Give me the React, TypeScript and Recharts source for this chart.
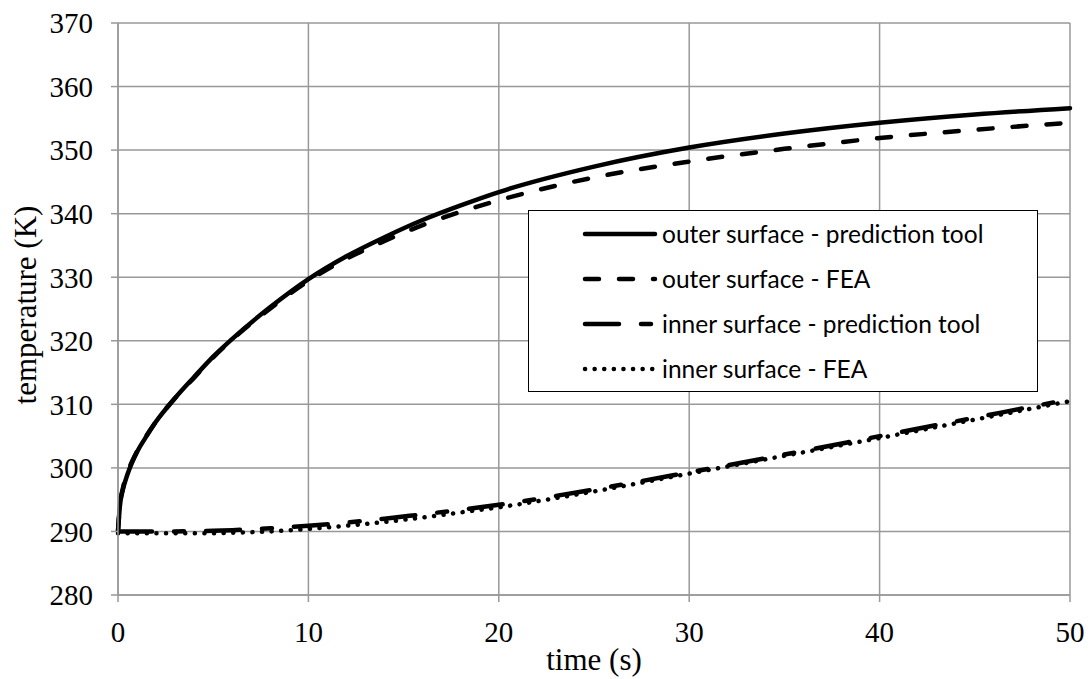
import React from "react";
import {
	CartesianGrid,
	Legend,
	Line,
	LineChart,
	XAxis,
	YAxis,
} from "recharts";

const timeS = [0, 0.1, 0.25, 0.5, 1, 1.5, 2, 3, 4, 5, 6, 8, 10, 12, 14, 16, 18, 20, 25, 30, 35, 40, 45, 50];
const outerPrediction = [290, 294, 296.5, 299, 302.5, 305, 307.3, 311, 314.3, 317.5, 320.3, 325.3, 329.7, 333.3, 336.3, 339, 341.3, 343.4, 347.4, 350.4, 352.6, 354.3, 355.6, 356.6];
const outerFea = [290, 294.2, 296.7, 299.2, 302.6, 305.1, 307.3, 311, 314.2, 317.4, 320.2, 325.1, 329.4, 332.9, 335.7, 338.2, 340.3, 342.1, 345.7, 348.2, 350.2, 351.9, 353.2, 354.3];
const innerPrediction = [290, 290, 290, 290, 290, 290, 290, 290, 290.05, 290.1, 290.2, 290.5, 290.9, 291.4, 292, 292.7, 293.4, 294.2, 296.6, 299.3, 302.1, 305, 307.9, 310.8];
const innerFea = [289.7, 289.7, 289.7, 289.7, 289.7, 289.7, 289.7, 289.7, 289.7, 289.7, 289.8, 290, 290.4, 290.9, 291.5, 292.2, 293, 293.8, 296.3, 299.1, 301.9, 304.7, 307.6, 310.5];

const xTicks = [0, 10, 20, 30, 40, 50];
const yTicks = [280, 290, 300, 310, 320, 330, 340, 350, 360, 370];

const seriesNames = [
	"outer surface - prediction tool",
	"outer surface - FEA",
	"inner surface - prediction tool",
	"inner surface - FEA",
];

const data = timeS.map((t, i) => ({
	t,
	outerPred: outerPrediction[i],
	outerFea: outerFea[i],
	innerPred: innerPrediction[i],
	innerFea: innerFea[i],
}));

const series = [
	{ key: "outerPred", name: seriesNames[0], dash: undefined, width: 4.5 },
	{ key: "outerFea", name: seriesNames[1], dash: "14 20", width: 4.5 },
	{ key: "innerPred", name: seriesNames[2], dash: "34 22 10 22", width: 4.5 },
	{ key: "innerFea", name: seriesNames[3], dash: "0.1 9.5", width: 4.5 },
];

const gridColor = "#999999";
const serif = "'Liberation Serif', 'Times New Roman', serif";
const legendFont = "Lato, 'Open Sans', sans-serif";

// plain box legend, drawn like the Excel one
const LegendBox = () => (
	<div
		style={{
			width: 510,
			height: 182,
			background: "#fff",
			border: "1.5px solid #000",
			boxSizing: "border-box",
		}}
	>
		{series.map((s) => (
			<div
				key={s.key}
				style={{ display: "flex", alignItems: "center", height: 45 }}
			>
				<svg width={133} height={20} style={{ flex: "none" }}>
					<line
						x1={56}
						x2={126}
						y1={10}
						y2={10}
						stroke="#000"
						strokeWidth={s.width}
						strokeLinecap="round"
						strokeDasharray={s.dash}
					/>
				</svg>
				<span
					style={{
						fontFamily: legendFont,
						fontSize: 24.5,
						color: "#000",
						whiteSpace: "nowrap",
					}}
				>
					{s.name}
				</span>
			</div>
		))}
	</div>
);

export default function App() {
	return (
		<div style={{ width: 1091, height: 679, background: "#fff" }}>
			<style>{"body{margin:0;}"}</style>
			<LineChart
				width={1091}
				height={679}
				data={data}
				margin={{ top: 23, right: 21, left: 0, bottom: 0 }}
			>
				<CartesianGrid stroke={gridColor} strokeWidth={1.5} />
				<XAxis
					dataKey="t"
					type="number"
					domain={[0, 50]}
					ticks={xTicks}
					height={84}
					tickSize={7}
					tickMargin={19}
					stroke={gridColor}
					strokeWidth={1.5}
					tick={{ fill: "#000", fontFamily: serif, fontSize: 29 }}
					label={{
						content: () => (
							<text
								x={594}
								y={670}
								textAnchor="middle"
								fontFamily={serif}
								fontSize={31}
								fill="#000"
							>
								time (s)
							</text>
						),
					}}
				/>
				<YAxis
					type="number"
					domain={[280, 370]}
					ticks={yTicks}
					width={118}
					tickSize={7}
					tickMargin={18}
					stroke={gridColor}
					strokeWidth={1.5}
					tick={{ fill: "#000", fontFamily: serif, fontSize: 29 }}
					label={{
						content: () => (
							<text
								x={36}
								y={305}
								textAnchor="middle"
								transform="rotate(-90 36 305)"
								fontFamily={serif}
								fontSize={31}
								fill="#000"
							>
								temperature (K)
							</text>
						),
					}}
				/>
				<Legend
					layout="vertical"
					align="center"
					verticalAlign="middle"
					wrapperStyle={{ left: 528, top: 210, width: 510, height: 182 }}
					content={() => <LegendBox />}
				/>
				{series.map((s) => (
					<Line
						key={s.key}
						dataKey={s.key}
						name={s.name}
						type="monotone"
						stroke="#000"
						strokeWidth={s.width}
						strokeDasharray={s.dash}
						strokeLinecap="round"
						dot={false}
						activeDot={false}
						isAnimationActive={false}
					/>
				))}
			</LineChart>
		</div>
	);
}
